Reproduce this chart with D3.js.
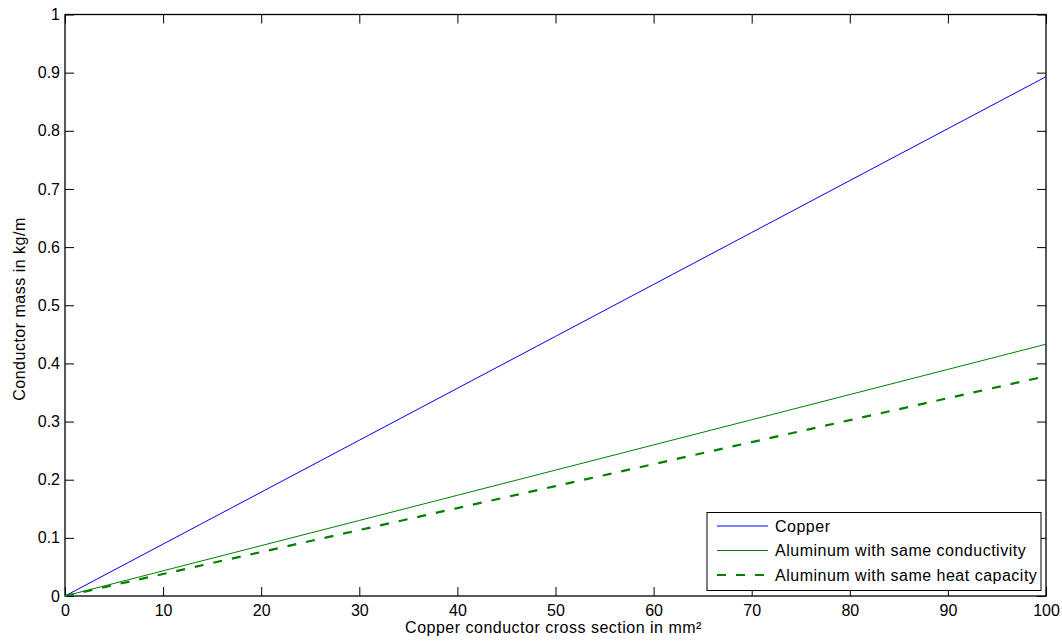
<!DOCTYPE html>
<html>
<head>
<meta charset="utf-8">
<script src="https://cdn.jsdelivr.net/npm/d3@7"></script>
<style>
  html, body { margin: 0; padding: 0; background: #fff; }
  svg { display: block; font-family: "Liberation Sans", Arial, sans-serif; }
</style>
</head>
<body>
<svg id="chart" width="1062" height="642"></svg>
<script>
// Cross sections in mm² (copper conductor)
const crossSection = [0, 10, 20, 30, 40, 50, 60, 70, 80, 90, 100];
// Conductor mass in kg/m
const copperMass      = [0, 0.0893, 0.1786, 0.2679, 0.3572, 0.4465, 0.5358, 0.6251, 0.7144, 0.8037, 0.8930];
const aluCondMass     = [0, 0.0433, 0.0866, 0.1299, 0.1732, 0.2165, 0.2598, 0.3031, 0.3464, 0.3897, 0.4330];
const aluHeatMass     = [0, 0.0378, 0.0756, 0.1134, 0.1512, 0.1890, 0.2268, 0.2646, 0.3024, 0.3402, 0.3780];
const seriesNames     = ["Copper", "Aluminum with same conductivity", "Aluminum with same heat capacity"];
const xTicks = [0, 10, 20, 30, 40, 50, 60, 70, 80, 90, 100];
const yTicks = [0, 0.1, 0.2, 0.3, 0.4, 0.5, 0.6, 0.7, 0.8, 0.9, 1];

const svg = d3.select("#chart");
const L = 65, R = 1046, T = 14.5, B = 596;

const x = d3.scaleLinear().domain([0, 100]).range([L, R]);
const y = d3.scaleLinear().domain([0, 1]).range([B, T]);

const fmt = d => String(+d.toFixed(1));
const tickLen = 9;

// Bottom axis (ticks point inward)
const gx = svg.append("g").attr("transform", `translate(0,${B})`)
  .call(d3.axisBottom(x).tickValues(xTicks).tickFormat(fmt).tickSizeInner(-tickLen).tickSizeOuter(0).tickPadding(8.5));
// Top axis ticks only
const gxt = svg.append("g").attr("transform", `translate(0,${T})`)
  .call(d3.axisTop(x).tickValues(xTicks).tickFormat("").tickSizeInner(-tickLen).tickSizeOuter(0));
// Left axis
const gy = svg.append("g").attr("transform", `translate(${L},0)`)
  .call(d3.axisLeft(y).tickValues(yTicks).tickFormat(fmt).tickSizeInner(-tickLen).tickSizeOuter(0).tickPadding(5));
// Right axis ticks only
const gyr = svg.append("g").attr("transform", `translate(${R},0)`)
  .call(d3.axisRight(y).tickValues(yTicks).tickFormat("").tickSizeInner(-tickLen).tickSizeOuter(0));

[gx, gxt, gy, gyr].forEach(g => {
  g.select(".domain").remove();
  g.selectAll(".tick line").attr("stroke", "#000").attr("stroke-width", 1);
  g.selectAll(".tick text").attr("fill", "#000").style("font-size", "16px")
    .style("font-family", "'Liberation Sans', Arial, sans-serif");
});

// Axes box
svg.append("rect").attr("x", L).attr("y", T).attr("width", R - L).attr("height", B - T)
  .attr("fill", "none").attr("stroke", "#000").attr("stroke-width", 1.3);

// Data lines
const series = [
  { name: seriesNames[0], values: copperMass, color: "#0000ff", width: 1, dash: null },
  { name: seriesNames[1], values: aluCondMass, color: "#008000", width: 1, dash: null },
  { name: seriesNames[2], values: aluHeatMass, color: "#008000", width: 2.2, dash: "9,10" }
];

const line = d3.line().x((d, i) => x(crossSection[i])).y(d => y(d));
series.forEach(s => {
  svg.append("path").datum(s.values)
    .attr("d", line)
    .attr("fill", "none")
    .attr("stroke", s.color)
    .attr("stroke-width", s.width)
    .attr("stroke-dasharray", s.dash);
});

// Legend
const lg = svg.append("g");
lg.append("rect").attr("x", 707).attr("y", 512.5).attr("width", 334).attr("height", 78)
  .attr("fill", "#fff").attr("stroke", "#000").attr("stroke-width", 1);
series.forEach((s, i) => {
  const yy = 526 + i * 24.5;
  lg.append("line").attr("x1", 717).attr("x2", 768).attr("y1", yy).attr("y2", yy)
    .attr("stroke", s.color).attr("stroke-width", s.width).attr("stroke-dasharray", s.dash);
  lg.append("text").attr("x", 775).attr("y", yy).attr("dy", "0.35em")
    .style("font-size", "16px").style("letter-spacing", "0.5px").attr("fill", "#000").text(s.name);
});

// Axis titles
svg.append("text").attr("x", (L + R) / 2 - 2).attr("y", 633).attr("text-anchor", "middle")
  .style("font-size", "16px").style("letter-spacing", "0.5px").attr("fill", "#000")
  .text("Copper conductor cross section in mm²");
svg.append("text").attr("transform", `translate(25,309) rotate(-90)`).attr("text-anchor", "middle")
  .style("font-size", "16px").style("letter-spacing", "0.5px").attr("fill", "#000")
  .text("Conductor mass in kg/m");
</script>
</body>
</html>
